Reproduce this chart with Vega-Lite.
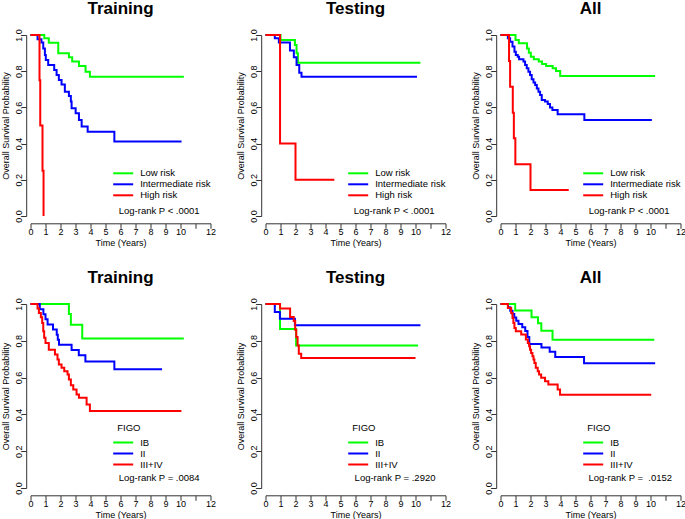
{
  "$schema": "https://vega.github.io/schema/vega-lite/v6.json",
  "background": "white",
  "padding": {"left": 0.5, "top": 0, "right": 0, "bottom": 0},
  "columns": 3,
  "spacing": {"row": 88, "column": 55},
  "bounds": "flush",
  "resolve": {"scale": {"color": "independent", "x": "independent", "y": "independent"}, "legend": {"color": "independent"}},
  "config": {
    "view": {"stroke": null},
    "font": "Liberation Sans",
    "axis": {"labelFont": "Liberation Sans", "titleFont": "Liberation Sans", "labelFontSize": 9, "titleFontSize": 9, "titleFontWeight": "normal", "labelColor": "#000", "titleColor": "#000", "domainColor": "#333", "tickColor": "#333", "tickSize": 5, "grid": false, "labelFlush": false, "labelOverlap": false},
    "axisX": {"offset": 7.3, "labelPadding": -0.6, "titlePadding": 2},
    "axisY": {"offset": 4.3, "labelAngle": -90, "labelAlign": "center", "labelBaseline": "alphabetic", "labelPadding": 0.2, "titlePadding": 4},
    "legend": {"orient": "none", "symbolType": "M-2,0H2", "symbolSize": 100, "symbolStrokeWidth": 2, "labelFont": "Liberation Sans", "labelFontSize": 9.5, "labelColor": "#000", "labelOffset": 11, "rowPadding": 0, "padding": 0, "titleFont": "Liberation Sans", "titleFontSize": 9.5, "titleFontWeight": "normal", "titleColor": "#000", "titlePadding": 4, "legendX": 86.7},
    "title": {"font": "Liberation Sans", "fontSize": 17, "fontWeight": "bold", "color": "#000", "anchor": "middle", "baseline": "alphabetic", "frame": "group", "offset": 10.7},
    "text": {"font": "Liberation Sans", "fontSize": 9.5, "color": "#000", "align": "left", "baseline": "middle"},
    "line": {"interpolate": "step-after", "strokeWidth": 2}
  },
  "datasets": {
    "km": [
      {"panel": "Training risk", "group": "Low risk", "time": 0, "surv": 1},
      {"panel": "Training risk", "group": "Low risk", "time": 0.92, "surv": 0.982},
      {"panel": "Training risk", "group": "Low risk", "time": 1.22, "surv": 0.957},
      {"panel": "Training risk", "group": "Low risk", "time": 1.85, "surv": 0.899},
      {"panel": "Training risk", "group": "Low risk", "time": 2.56, "surv": 0.877},
      {"panel": "Training risk", "group": "Low risk", "time": 2.78, "surv": 0.853},
      {"panel": "Training risk", "group": "Low risk", "time": 3.23, "surv": 0.829},
      {"panel": "Training risk", "group": "Low risk", "time": 3.67, "surv": 0.797},
      {"panel": "Training risk", "group": "Low risk", "time": 3.96, "surv": 0.77},
      {"panel": "Training risk", "group": "Low risk", "time": 10.22, "surv": 0.77},
      {"panel": "Training risk", "group": "Intermediate risk", "time": 0, "surv": 1},
      {"panel": "Training risk", "group": "Intermediate risk", "time": 0.47, "surv": 0.976},
      {"panel": "Training risk", "group": "Intermediate risk", "time": 0.73, "surv": 0.958},
      {"panel": "Training risk", "group": "Intermediate risk", "time": 0.85, "surv": 0.926},
      {"panel": "Training risk", "group": "Intermediate risk", "time": 0.96, "surv": 0.89},
      {"panel": "Training risk", "group": "Intermediate risk", "time": 1.02, "surv": 0.862},
      {"panel": "Training risk", "group": "Intermediate risk", "time": 1.18, "surv": 0.834},
      {"panel": "Training risk", "group": "Intermediate risk", "time": 1.58, "surv": 0.807},
      {"panel": "Training risk", "group": "Intermediate risk", "time": 1.74, "surv": 0.779},
      {"panel": "Training risk", "group": "Intermediate risk", "time": 1.89, "surv": 0.751},
      {"panel": "Training risk", "group": "Intermediate risk", "time": 2.07, "surv": 0.727},
      {"panel": "Training risk", "group": "Intermediate risk", "time": 2.29, "surv": 0.687},
      {"panel": "Training risk", "group": "Intermediate risk", "time": 2.56, "surv": 0.663},
      {"panel": "Training risk", "group": "Intermediate risk", "time": 2.69, "surv": 0.632},
      {"panel": "Training risk", "group": "Intermediate risk", "time": 2.74, "surv": 0.595},
      {"panel": "Training risk", "group": "Intermediate risk", "time": 3.01, "surv": 0.567},
      {"panel": "Training risk", "group": "Intermediate risk", "time": 3.23, "surv": 0.53},
      {"panel": "Training risk", "group": "Intermediate risk", "time": 3.41, "surv": 0.494},
      {"panel": "Training risk", "group": "Intermediate risk", "time": 3.81, "surv": 0.466},
      {"panel": "Training risk", "group": "Intermediate risk", "time": 5.59, "surv": 0.411},
      {"panel": "Training risk", "group": "Intermediate risk", "time": 10.07, "surv": 0.411},
      {"panel": "Training risk", "group": "High risk", "time": 0, "surv": 1},
      {"panel": "Training risk", "group": "High risk", "time": 0.6, "surv": 0.75},
      {"panel": "Training risk", "group": "High risk", "time": 0.65, "surv": 0.5},
      {"panel": "Training risk", "group": "High risk", "time": 0.8, "surv": 0.25},
      {"panel": "Training risk", "group": "High risk", "time": 0.87, "surv": 0},

      {"panel": "Testing risk", "group": "Low risk", "time": 0, "surv": 1},
      {"panel": "Testing risk", "group": "Low risk", "time": 1.0, "surv": 0.972},
      {"panel": "Testing risk", "group": "Low risk", "time": 1.96, "surv": 0.945},
      {"panel": "Testing risk", "group": "Low risk", "time": 2.07, "surv": 0.899},
      {"panel": "Testing risk", "group": "Low risk", "time": 2.16, "surv": 0.847},
      {"panel": "Testing risk", "group": "Low risk", "time": 10.33, "surv": 0.847},
      {"panel": "Testing risk", "group": "Intermediate risk", "time": 0, "surv": 1},
      {"panel": "Testing risk", "group": "Intermediate risk", "time": 0.62, "surv": 0.982},
      {"panel": "Testing risk", "group": "Intermediate risk", "time": 0.89, "surv": 0.958},
      {"panel": "Testing risk", "group": "Intermediate risk", "time": 1.63, "surv": 0.914},
      {"panel": "Testing risk", "group": "Intermediate risk", "time": 1.89, "surv": 0.877},
      {"panel": "Testing risk", "group": "Intermediate risk", "time": 2.07, "surv": 0.834},
      {"panel": "Testing risk", "group": "Intermediate risk", "time": 2.25, "surv": 0.792},
      {"panel": "Testing risk", "group": "Intermediate risk", "time": 2.4, "surv": 0.77},
      {"panel": "Testing risk", "group": "Intermediate risk", "time": 10.1, "surv": 0.77},
      {"panel": "Testing risk", "group": "High risk", "time": 0, "surv": 1},
      {"panel": "Testing risk", "group": "High risk", "time": 0.97, "surv": 0.4},
      {"panel": "Testing risk", "group": "High risk", "time": 2.0, "surv": 0.2},
      {"panel": "Testing risk", "group": "High risk", "time": 4.59, "surv": 0.2},

      {"panel": "All risk", "group": "Low risk", "time": 0, "surv": 1},
      {"panel": "All risk", "group": "Low risk", "time": 1.0, "surv": 0.972},
      {"panel": "All risk", "group": "Low risk", "time": 1.22, "surv": 0.954},
      {"panel": "All risk", "group": "Low risk", "time": 1.77, "surv": 0.926},
      {"panel": "All risk", "group": "Low risk", "time": 1.89, "surv": 0.902},
      {"panel": "All risk", "group": "Low risk", "time": 2.02, "surv": 0.88},
      {"panel": "All risk", "group": "Low risk", "time": 2.22, "surv": 0.866},
      {"panel": "All risk", "group": "Low risk", "time": 2.55, "surv": 0.853},
      {"panel": "All risk", "group": "Low risk", "time": 2.77, "surv": 0.84},
      {"panel": "All risk", "group": "Low risk", "time": 3.04, "surv": 0.829},
      {"panel": "All risk", "group": "Low risk", "time": 3.48, "surv": 0.816},
      {"panel": "All risk", "group": "Low risk", "time": 3.7, "surv": 0.801},
      {"panel": "All risk", "group": "Low risk", "time": 3.98, "surv": 0.773},
      {"panel": "All risk", "group": "Low risk", "time": 10.31, "surv": 0.773},
      {"panel": "All risk", "group": "Intermediate risk", "time": 0, "surv": 1},
      {"panel": "All risk", "group": "Intermediate risk", "time": 0.49, "surv": 0.982},
      {"panel": "All risk", "group": "Intermediate risk", "time": 0.64, "surv": 0.963},
      {"panel": "All risk", "group": "Intermediate risk", "time": 0.8, "surv": 0.936},
      {"panel": "All risk", "group": "Intermediate risk", "time": 0.93, "surv": 0.908},
      {"panel": "All risk", "group": "Intermediate risk", "time": 1.02, "surv": 0.89},
      {"panel": "All risk", "group": "Intermediate risk", "time": 1.15, "surv": 0.88},
      {"panel": "All risk", "group": "Intermediate risk", "time": 1.24, "surv": 0.866},
      {"panel": "All risk", "group": "Intermediate risk", "time": 1.53, "surv": 0.853},
      {"panel": "All risk", "group": "Intermediate risk", "time": 1.64, "surv": 0.834},
      {"panel": "All risk", "group": "Intermediate risk", "time": 1.75, "surv": 0.816},
      {"panel": "All risk", "group": "Intermediate risk", "time": 1.86, "surv": 0.797},
      {"panel": "All risk", "group": "Intermediate risk", "time": 1.97, "surv": 0.779},
      {"panel": "All risk", "group": "Intermediate risk", "time": 2.08, "surv": 0.755},
      {"panel": "All risk", "group": "Intermediate risk", "time": 2.2, "surv": 0.737},
      {"panel": "All risk", "group": "Intermediate risk", "time": 2.31, "surv": 0.724},
      {"panel": "All risk", "group": "Intermediate risk", "time": 2.42, "surv": 0.705},
      {"panel": "All risk", "group": "Intermediate risk", "time": 2.53, "surv": 0.687},
      {"panel": "All risk", "group": "Intermediate risk", "time": 2.64, "surv": 0.669},
      {"panel": "All risk", "group": "Intermediate risk", "time": 2.75, "surv": 0.641},
      {"panel": "All risk", "group": "Intermediate risk", "time": 2.97, "surv": 0.632},
      {"panel": "All risk", "group": "Intermediate risk", "time": 3.15, "surv": 0.619},
      {"panel": "All risk", "group": "Intermediate risk", "time": 3.3, "surv": 0.6},
      {"panel": "All risk", "group": "Intermediate risk", "time": 3.46, "surv": 0.586},
      {"panel": "All risk", "group": "Intermediate risk", "time": 3.81, "surv": 0.562},
      {"panel": "All risk", "group": "Intermediate risk", "time": 5.59, "surv": 0.53},
      {"panel": "All risk", "group": "Intermediate risk", "time": 10.09, "surv": 0.53},
      {"panel": "All risk", "group": "High risk", "time": 0, "surv": 1},
      {"panel": "All risk", "group": "High risk", "time": 0.57, "surv": 0.857},
      {"panel": "All risk", "group": "High risk", "time": 0.64, "surv": 0.714},
      {"panel": "All risk", "group": "High risk", "time": 0.82, "surv": 0.571},
      {"panel": "All risk", "group": "High risk", "time": 0.89, "surv": 0.429},
      {"panel": "All risk", "group": "High risk", "time": 0.99, "surv": 0.286},
      {"panel": "All risk", "group": "High risk", "time": 2.0, "surv": 0.143},
      {"panel": "All risk", "group": "High risk", "time": 4.55, "surv": 0.143},

      {"panel": "Training FIGO", "group": "IB", "time": 0, "surv": 1},
      {"panel": "Training FIGO", "group": "IB", "time": 2.56, "surv": 0.945},
      {"panel": "Training FIGO", "group": "IB", "time": 2.69, "surv": 0.887},
      {"panel": "Training FIGO", "group": "IB", "time": 3.45, "surv": 0.813},
      {"panel": "Training FIGO", "group": "IB", "time": 10.22, "surv": 0.813},
      {"panel": "Training FIGO", "group": "II", "time": 0, "surv": 1},
      {"panel": "Training FIGO", "group": "II", "time": 0.62, "surv": 0.972},
      {"panel": "Training FIGO", "group": "II", "time": 0.86, "surv": 0.944},
      {"panel": "Training FIGO", "group": "II", "time": 1.0, "surv": 0.917},
      {"panel": "Training FIGO", "group": "II", "time": 1.14, "surv": 0.889},
      {"panel": "Training FIGO", "group": "II", "time": 1.5, "surv": 0.861},
      {"panel": "Training FIGO", "group": "II", "time": 1.75, "surv": 0.833},
      {"panel": "Training FIGO", "group": "II", "time": 1.82, "surv": 0.806},
      {"panel": "Training FIGO", "group": "II", "time": 1.9, "surv": 0.778},
      {"panel": "Training FIGO", "group": "II", "time": 2.74, "surv": 0.75},
      {"panel": "Training FIGO", "group": "II", "time": 3.22, "surv": 0.722},
      {"panel": "Training FIGO", "group": "II", "time": 3.66, "surv": 0.688},
      {"panel": "Training FIGO", "group": "II", "time": 5.59, "surv": 0.645},
      {"panel": "Training FIGO", "group": "II", "time": 8.77, "surv": 0.645},
      {"panel": "Training FIGO", "group": "III+IV", "time": 0, "surv": 1},
      {"panel": "Training FIGO", "group": "III+IV", "time": 0.47, "surv": 0.975},
      {"panel": "Training FIGO", "group": "III+IV", "time": 0.56, "surv": 0.951},
      {"panel": "Training FIGO", "group": "III+IV", "time": 0.69, "surv": 0.928},
      {"panel": "Training FIGO", "group": "III+IV", "time": 0.78, "surv": 0.897},
      {"panel": "Training FIGO", "group": "III+IV", "time": 0.85, "surv": 0.852},
      {"panel": "Training FIGO", "group": "III+IV", "time": 0.91, "surv": 0.816},
      {"panel": "Training FIGO", "group": "III+IV", "time": 1.0, "surv": 0.788},
      {"panel": "Training FIGO", "group": "III+IV", "time": 1.22, "surv": 0.752},
      {"panel": "Training FIGO", "group": "III+IV", "time": 1.63, "surv": 0.725},
      {"panel": "Training FIGO", "group": "III+IV", "time": 1.8, "surv": 0.698},
      {"panel": "Training FIGO", "group": "III+IV", "time": 1.89, "surv": 0.671},
      {"panel": "Training FIGO", "group": "III+IV", "time": 2.07, "surv": 0.653},
      {"panel": "Training FIGO", "group": "III+IV", "time": 2.25, "surv": 0.635},
      {"panel": "Training FIGO", "group": "III+IV", "time": 2.47, "surv": 0.617},
      {"panel": "Training FIGO", "group": "III+IV", "time": 2.56, "surv": 0.59},
      {"panel": "Training FIGO", "group": "III+IV", "time": 2.69, "surv": 0.559},
      {"panel": "Training FIGO", "group": "III+IV", "time": 2.85, "surv": 0.535},
      {"panel": "Training FIGO", "group": "III+IV", "time": 3.07, "surv": 0.508},
      {"panel": "Training FIGO", "group": "III+IV", "time": 3.23, "surv": 0.49},
      {"panel": "Training FIGO", "group": "III+IV", "time": 3.74, "surv": 0.454},
      {"panel": "Training FIGO", "group": "III+IV", "time": 3.96, "surv": 0.418},
      {"panel": "Training FIGO", "group": "III+IV", "time": 10.06, "surv": 0.418},

      {"panel": "Testing FIGO", "group": "IB", "time": 0, "surv": 1},
      {"panel": "Testing FIGO", "group": "IB", "time": 0.97, "surv": 0.864},
      {"panel": "Testing FIGO", "group": "IB", "time": 2.04, "surv": 0.774},
      {"panel": "Testing FIGO", "group": "IB", "time": 10.17, "surv": 0.774},
      {"panel": "Testing FIGO", "group": "II", "time": 0, "surv": 1},
      {"panel": "Testing FIGO", "group": "II", "time": 0.62, "surv": 0.957},
      {"panel": "Testing FIGO", "group": "II", "time": 0.96, "surv": 0.92},
      {"panel": "Testing FIGO", "group": "II", "time": 1.96, "surv": 0.884},
      {"panel": "Testing FIGO", "group": "II", "time": 10.33, "surv": 0.884},
      {"panel": "Testing FIGO", "group": "III+IV", "time": 0, "surv": 1},
      {"panel": "Testing FIGO", "group": "III+IV", "time": 0.97, "surv": 0.976},
      {"panel": "Testing FIGO", "group": "III+IV", "time": 1.64, "surv": 0.93},
      {"panel": "Testing FIGO", "group": "III+IV", "time": 1.88, "surv": 0.907},
      {"panel": "Testing FIGO", "group": "III+IV", "time": 1.98, "surv": 0.86},
      {"panel": "Testing FIGO", "group": "III+IV", "time": 2.05, "surv": 0.82},
      {"panel": "Testing FIGO", "group": "III+IV", "time": 2.14, "surv": 0.775},
      {"panel": "Testing FIGO", "group": "III+IV", "time": 2.22, "surv": 0.73},
      {"panel": "Testing FIGO", "group": "III+IV", "time": 2.38, "surv": 0.707},
      {"panel": "Testing FIGO", "group": "III+IV", "time": 10.0, "surv": 0.707},

      {"panel": "All FIGO", "group": "IB", "time": 0, "surv": 1},
      {"panel": "All FIGO", "group": "IB", "time": 0.98, "surv": 0.964},
      {"panel": "All FIGO", "group": "IB", "time": 2.07, "surv": 0.928},
      {"panel": "All FIGO", "group": "IB", "time": 2.5, "surv": 0.896},
      {"panel": "All FIGO", "group": "IB", "time": 2.72, "surv": 0.855},
      {"panel": "All FIGO", "group": "IB", "time": 3.47, "surv": 0.806},
      {"panel": "All FIGO", "group": "IB", "time": 10.25, "surv": 0.806},
      {"panel": "All FIGO", "group": "II", "time": 0, "surv": 1},
      {"panel": "All FIGO", "group": "II", "time": 0.5, "surv": 0.982},
      {"panel": "All FIGO", "group": "II", "time": 0.65, "surv": 0.963},
      {"panel": "All FIGO", "group": "II", "time": 0.8, "surv": 0.945},
      {"panel": "All FIGO", "group": "II", "time": 0.92, "surv": 0.927},
      {"panel": "All FIGO", "group": "II", "time": 1.05, "surv": 0.909},
      {"panel": "All FIGO", "group": "II", "time": 1.2, "surv": 0.891},
      {"panel": "All FIGO", "group": "II", "time": 1.45, "surv": 0.873},
      {"panel": "All FIGO", "group": "II", "time": 1.65, "surv": 0.853},
      {"panel": "All FIGO", "group": "II", "time": 1.8, "surv": 0.82},
      {"panel": "All FIGO", "group": "II", "time": 1.92, "surv": 0.782},
      {"panel": "All FIGO", "group": "II", "time": 2.73, "surv": 0.763},
      {"panel": "All FIGO", "group": "II", "time": 3.28, "surv": 0.741},
      {"panel": "All FIGO", "group": "II", "time": 3.65, "surv": 0.712},
      {"panel": "All FIGO", "group": "II", "time": 5.57, "surv": 0.678},
      {"panel": "All FIGO", "group": "II", "time": 10.31, "surv": 0.678},
      {"panel": "All FIGO", "group": "III+IV", "time": 0, "surv": 1},
      {"panel": "All FIGO", "group": "III+IV", "time": 0.49, "surv": 0.978},
      {"panel": "All FIGO", "group": "III+IV", "time": 0.71, "surv": 0.951},
      {"panel": "All FIGO", "group": "III+IV", "time": 0.8, "surv": 0.924},
      {"panel": "All FIGO", "group": "III+IV", "time": 0.86, "surv": 0.897},
      {"panel": "All FIGO", "group": "III+IV", "time": 0.93, "surv": 0.87},
      {"panel": "All FIGO", "group": "III+IV", "time": 1.02, "surv": 0.852},
      {"panel": "All FIGO", "group": "III+IV", "time": 1.38, "surv": 0.834},
      {"panel": "All FIGO", "group": "III+IV", "time": 1.69, "surv": 0.807},
      {"panel": "All FIGO", "group": "III+IV", "time": 1.82, "surv": 0.788},
      {"panel": "All FIGO", "group": "III+IV", "time": 1.91, "surv": 0.77},
      {"panel": "All FIGO", "group": "III+IV", "time": 1.97, "surv": 0.752},
      {"panel": "All FIGO", "group": "III+IV", "time": 2.04, "surv": 0.734},
      {"panel": "All FIGO", "group": "III+IV", "time": 2.13, "surv": 0.716},
      {"panel": "All FIGO", "group": "III+IV", "time": 2.2, "surv": 0.698},
      {"panel": "All FIGO", "group": "III+IV", "time": 2.26, "surv": 0.68},
      {"panel": "All FIGO", "group": "III+IV", "time": 2.35, "surv": 0.653},
      {"panel": "All FIGO", "group": "III+IV", "time": 2.48, "surv": 0.635},
      {"panel": "All FIGO", "group": "III+IV", "time": 2.57, "surv": 0.617},
      {"panel": "All FIGO", "group": "III+IV", "time": 2.71, "surv": 0.599},
      {"panel": "All FIGO", "group": "III+IV", "time": 2.97, "surv": 0.58},
      {"panel": "All FIGO", "group": "III+IV", "time": 3.19, "surv": 0.562},
      {"panel": "All FIGO", "group": "III+IV", "time": 3.81, "surv": 0.535},
      {"panel": "All FIGO", "group": "III+IV", "time": 3.97, "surv": 0.507},
      {"panel": "All FIGO", "group": "III+IV", "time": 10.05, "surv": 0.507}
    ]
  },
  "concat": [
    {
      "width": 180, "height": 181,
      "title": "Training",
      "data": {"name": "km"},
      "layer": [
        {"transform": [{"filter": "datum.panel === 'Training risk'"}], "mark": "line",
         "encoding": {
           "x": {"field": "time", "type": "quantitative", "scale": {"domain": [0, 12], "nice": false}, "axis": {"title": "Time (Years)", "values": [0,1,2,3,4,5,6,7,8,9,10,11,12], "tickCount": 13, "labelOverlap": false, "labelExpr": "datum.value == 11 ? '' : datum.label"}},
           "y": {"field": "surv", "type": "quantitative", "scale": {"domain": [0, 1], "nice": false}, "axis": {"title": "Overall Survival Probability", "values": [0,0.2,0.4,0.6,0.8,1], "tickCount": 6, "labelOverlap": false, "format": ".1f"}},
           "color": {"field": "group", "type": "nominal", "scale": {"domain": ["Low risk", "Intermediate risk", "High risk"], "range": ["#00FF00", "#0000FF", "#FF0000"]}, "legend": {"title": null, "legendY": 132.3}}
         }},
        {"data": {"values": [{"label": "Log-rank P < .0001"}]}, "mark": "text",
         "encoding": {"x": {"datum": 5.88, "type": "quantitative"}, "y": {"datum": 0.03, "type": "quantitative"}, "text": {"field": "label"}}}
      ]
    },
    {
      "width": 180, "height": 181,
      "title": "Testing",
      "data": {"name": "km"},
      "layer": [
        {"transform": [{"filter": "datum.panel === 'Testing risk'"}], "mark": "line",
         "encoding": {
           "x": {"field": "time", "type": "quantitative", "scale": {"domain": [0, 12], "nice": false}, "axis": {"title": "Time (Years)", "values": [0,1,2,3,4,5,6,7,8,9,10,11,12], "tickCount": 13, "labelOverlap": false, "labelExpr": "datum.value == 11 ? '' : datum.label"}},
           "y": {"field": "surv", "type": "quantitative", "scale": {"domain": [0, 1], "nice": false}, "axis": {"title": "Overall Survival Probability", "values": [0,0.2,0.4,0.6,0.8,1], "tickCount": 6, "labelOverlap": false, "format": ".1f"}},
           "color": {"field": "group", "type": "nominal", "scale": {"domain": ["Low risk", "Intermediate risk", "High risk"], "range": ["#00FF00", "#0000FF", "#FF0000"]}, "legend": {"title": null, "legendY": 132.3}}
         }},
        {"data": {"values": [{"label": "Log-rank P < .0001"}]}, "mark": "text",
         "encoding": {"x": {"datum": 5.88, "type": "quantitative"}, "y": {"datum": 0.03, "type": "quantitative"}, "text": {"field": "label"}}}
      ]
    },
    {
      "width": 180, "height": 181,
      "title": "All",
      "data": {"name": "km"},
      "layer": [
        {"transform": [{"filter": "datum.panel === 'All risk'"}], "mark": "line",
         "encoding": {
           "x": {"field": "time", "type": "quantitative", "scale": {"domain": [0, 12], "nice": false}, "axis": {"title": "Time (Years)", "values": [0,1,2,3,4,5,6,7,8,9,10,11,12], "tickCount": 13, "labelOverlap": false, "labelExpr": "datum.value == 11 ? '' : datum.label"}},
           "y": {"field": "surv", "type": "quantitative", "scale": {"domain": [0, 1], "nice": false}, "axis": {"title": "Overall Survival Probability", "values": [0,0.2,0.4,0.6,0.8,1], "tickCount": 6, "labelOverlap": false, "format": ".1f"}},
           "color": {"field": "group", "type": "nominal", "scale": {"domain": ["Low risk", "Intermediate risk", "High risk"], "range": ["#00FF00", "#0000FF", "#FF0000"]}, "legend": {"title": null, "legendY": 132.3}}
         }},
        {"data": {"values": [{"label": "Log-rank P < .0001"}]}, "mark": "text",
         "encoding": {"x": {"datum": 5.88, "type": "quantitative"}, "y": {"datum": 0.03, "type": "quantitative"}, "text": {"field": "label"}}}
      ]
    },
    {
      "width": 180, "height": 184,
      "title": "Training",
      "data": {"name": "km"},
      "layer": [
        {"transform": [{"filter": "datum.panel === 'Training FIGO'"}], "mark": "line",
         "encoding": {
           "x": {"field": "time", "type": "quantitative", "scale": {"domain": [0, 12], "nice": false}, "axis": {"title": "Time (Years)", "values": [0,1,2,3,4,5,6,7,8,9,10,11,12], "tickCount": 13, "labelOverlap": false, "labelExpr": "datum.value == 11 ? '' : datum.label"}},
           "y": {"field": "surv", "type": "quantitative", "scale": {"domain": [0, 1], "nice": false}, "axis": {"title": "Overall Survival Probability", "values": [0,0.2,0.4,0.6,0.8,1], "tickCount": 6, "labelOverlap": false, "format": ".1f"}},
           "color": {"field": "group", "type": "nominal", "scale": {"domain": ["IB", "II", "III+IV"], "range": ["#00FF00", "#0000FF", "#FF0000"]}, "legend": {"title": "FIGO", "legendY": 119}}
         }},
        {"data": {"values": [{"label": "Log-rank P = .0084"}]}, "mark": "text",
         "encoding": {"x": {"datum": 5.88, "type": "quantitative"}, "y": {"datum": 0.052, "type": "quantitative"}, "text": {"field": "label"}}}
      ]
    },
    {
      "width": 180, "height": 184,
      "title": "Testing",
      "data": {"name": "km"},
      "layer": [
        {"transform": [{"filter": "datum.panel === 'Testing FIGO'"}], "mark": "line",
         "encoding": {
           "x": {"field": "time", "type": "quantitative", "scale": {"domain": [0, 12], "nice": false}, "axis": {"title": "Time (Years)", "values": [0,1,2,3,4,5,6,7,8,9,10,11,12], "tickCount": 13, "labelOverlap": false, "labelExpr": "datum.value == 11 ? '' : datum.label"}},
           "y": {"field": "surv", "type": "quantitative", "scale": {"domain": [0, 1], "nice": false}, "axis": {"title": "Overall Survival Probability", "values": [0,0.2,0.4,0.6,0.8,1], "tickCount": 6, "labelOverlap": false, "format": ".1f"}},
           "color": {"field": "group", "type": "nominal", "scale": {"domain": ["IB", "II", "III+IV"], "range": ["#00FF00", "#0000FF", "#FF0000"]}, "legend": {"title": "FIGO", "legendY": 119}}
         }},
        {"data": {"values": [{"label": "Log-rank P = .2920"}]}, "mark": "text",
         "encoding": {"x": {"datum": 5.94, "type": "quantitative"}, "y": {"datum": 0.052, "type": "quantitative"}, "text": {"field": "label"}}}
      ]
    },
    {
      "width": 180, "height": 184,
      "title": "All",
      "data": {"name": "km"},
      "layer": [
        {"transform": [{"filter": "datum.panel === 'All FIGO'"}], "mark": "line",
         "encoding": {
           "x": {"field": "time", "type": "quantitative", "scale": {"domain": [0, 12], "nice": false}, "axis": {"title": "Time (Years)", "values": [0,1,2,3,4,5,6,7,8,9,10,11,12], "tickCount": 13, "labelOverlap": false, "labelExpr": "datum.value == 11 ? '' : datum.label"}},
           "y": {"field": "surv", "type": "quantitative", "scale": {"domain": [0, 1], "nice": false}, "axis": {"title": "Overall Survival Probability", "values": [0,0.2,0.4,0.6,0.8,1], "tickCount": 6, "labelOverlap": false, "format": ".1f"}},
           "color": {"field": "group", "type": "nominal", "scale": {"domain": ["IB", "II", "III+IV"], "range": ["#00FF00", "#0000FF", "#FF0000"]}, "legend": {"title": "FIGO", "legendY": 119}}
         }},
        {"data": {"values": [{"label": "Log-rank P =\u00a0 .0152"}]}, "mark": "text",
         "encoding": {"x": {"datum": 5.87, "type": "quantitative"}, "y": {"datum": 0.052, "type": "quantitative"}, "text": {"field": "label"}}}
      ]
    }
  ]
}
